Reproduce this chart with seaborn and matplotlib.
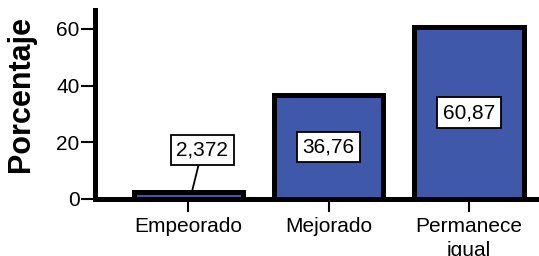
import matplotlib
matplotlib.use("Agg")
import matplotlib.pyplot as plt
import seaborn as sns
import pandas as pd

categories = ["Empeorado", "Mejorado", "Permanece\nigual"]
values = [2.372, 36.76, 60.87]
value_labels = ["2,372", "36,76", "60,87"]
yticks = [0, 20, 40, 60]

sns.set_style("white")
plt.rcParams['font.family'] = ['Liberation Sans', 'DejaVu Sans']
plt.rcParams['text.color'] = 'black'
plt.rcParams['axes.labelcolor'] = 'black'
plt.rcParams['xtick.color'] = 'black'
plt.rcParams['ytick.color'] = 'black'

df = pd.DataFrame({"cat": categories, "val": values})

fig = plt.figure(figsize=(5.39, 2.56), dpi=100)
ax = fig.add_axes([95/539, 57/256, 1 - 95/539, (199-10)/256])

sns.barplot(data=df, x="cat", y="val", color="#3F58AA", saturation=1,
            edgecolor="black", linewidth=3.6, width=0.78, ax=ax)

ax.set_xlim(-0.665, 2.5)
ax.set_ylim(0, 66.7)
ax.set_yticks(yticks)
ax.set_yticklabels([str(t) for t in yticks])
ax.set_xlabel("")
ax.set_ylabel("Porcentaje", fontsize=22, fontweight="bold", color="black")
ax.yaxis.set_label_coords(-0.133, 0.555)

for s in ["top", "right"]:
    ax.spines[s].set_visible(False)
for s in ["left", "bottom"]:
    ax.spines[s].set_linewidth(3.6)
    ax.spines[s].set_color("black")

ax.tick_params(axis="y", length=10, width=1.5, pad=1, labelsize=15, left=True, colors="black")
ax.tick_params(axis="x", length=9, width=1.5, pad=4, labelsize=15, bottom=True, colors="black")
for t in ax.get_xticklabels():
    t.set_linespacing(1.35)
    t.set_verticalalignment("top")

bbox = dict(boxstyle="square,pad=0.28", fc="white", ec="black", lw=1.3)
# label for small bar with leader line
ax.annotate(value_labels[0], xy=(0.025, values[0]), xytext=(0.1, 17.3),
            ha="center", va="center", fontsize=15, color="black", bbox=bbox,
            arrowprops=dict(arrowstyle="-", color="black", lw=1.3, shrinkA=0, shrinkB=0))
for i in (1, 2):
    ax.text(i, values[i] / 2, value_labels[i], ha="center", va="center",
            fontsize=15, color="black", bbox=bbox)

fig.savefig("out.png", dpi=100)
